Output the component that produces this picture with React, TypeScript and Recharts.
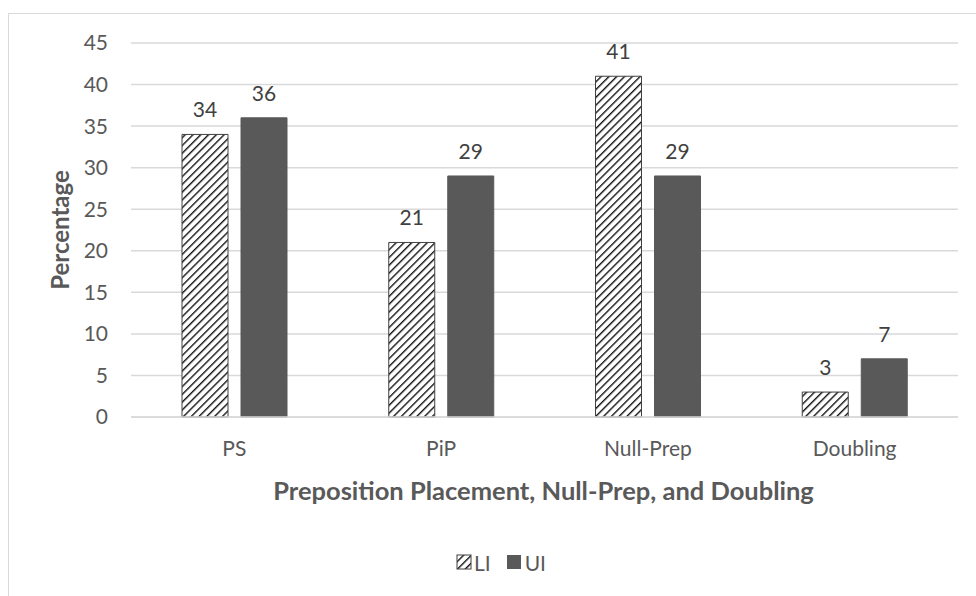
import React from 'react';
import { BarChart, Bar, XAxis, YAxis, CartesianGrid, LabelList, Legend, Label } from 'recharts';

const categories = ['PS', 'PiP', 'Null-Prep', 'Doubling'];
const liValues = [34, 21, 41, 3];
const uiValues = [36, 29, 29, 7];
const yTicks = [0, 5, 10, 15, 20, 25, 30, 35, 40, 45];

const data = categories.map((c, i) => ({ name: c, LI: liValues[i], UI: uiValues[i] }));

const FONT = 'Lato, "Open Sans", sans-serif';
const TXT = '#595959';

const LegendContent = () => (
  <div style={{ display: 'flex', justifyContent: 'center', alignItems: 'center', fontFamily: FONT, fontSize: 21, color: TXT, transform: 'translateX(22px)', height: 40 }}>
    <svg width={16} height={16} style={{ marginRight: 2 }}>
      <rect x={1} y={1} width={14} height={14} fill="url(#hatchLI)" stroke="#404040" strokeWidth={1} />
    </svg>
    <span style={{ marginRight: 15 }}>LI</span>
    <svg width={16} height={16} style={{ marginRight: 3 }}>
      <rect x={1} y={1} width={14} height={14} fill="#595959" />
    </svg>
    <span>UI</span>
  </div>
);

export default function App() {
  return (
    <div style={{ position: 'fixed', left: 0, top: 0, width: 976, height: 596, background: '#fff' }}>
      <div style={{ position: 'absolute', left: 8, top: 13, width: 980, height: 600, borderLeft: '1px solid #d9d9d9', borderTop: '1px solid #d9d9d9' }} />
      <div style={{ position: 'absolute', left: 0, top: 0 }}>
        <BarChart
          width={976}
          height={596}
          data={data}
          margin={{ top: 43, right: 18, left: 0, bottom: 14 }}
          barSize={46}
          barGap={13}
        >
          <defs>
            <pattern id="hatchLI" patternUnits="userSpaceOnUse" width={5.5} height={5.5} patternTransform="rotate(45)">
              <rect x={0} y={0} width={5.5} height={5.5} fill="#fff" />
              <line x1={0} y1={0} x2={0} y2={5.5} stroke="#111" strokeWidth={2.8} />
            </pattern>
          </defs>
          <CartesianGrid vertical={false} stroke="#d9d9d9" strokeWidth={1.5} />
          <XAxis
            dataKey="name"
            height={125}
            tickLine={false}
            axisLine={{ stroke: '#d9d9d9', strokeWidth: 1.5 }}
            tick={{ fill: TXT, fontSize: 21, fontFamily: FONT }}
            tickMargin={18}
            interval={0}
          >
            <Label
              content={(props: any) => {
                const vb = props.viewBox || {};
                return (
                  <text
                    x={vb.x + vb.width / 2 - 1}
                    y={vb.y + 83}
                    textAnchor="middle"
                    fill={TXT}
                    fontSize={25.5}
                    fontWeight="bold"
                    fontFamily={FONT}
                  >
                    Preposition Placement, Null-Prep, and Doubling
                  </text>
                );
              }}
            />
          </XAxis>
          <YAxis
            width={131}
            domain={[0, 45]}
            ticks={yTicks}
            interval={0}
            tickLine={false}
            axisLine={false}
            tick={{ fill: TXT, fontSize: 21, fontFamily: FONT }}
            tickMargin={17}
          >
            <Label
              value="Percentage"
              angle={-90}
              position="center"
              dx={-5}
              style={{ fill: TXT, fontSize: 24, fontWeight: 'bold', fontFamily: FONT, textAnchor: 'middle' }}
            />
          </YAxis>
          <Legend verticalAlign="bottom" height={40} content={<LegendContent />} />
          <Bar dataKey="LI" fill="url(#hatchLI)" stroke="#404040" strokeWidth={1} isAnimationActive={false}>
            <LabelList dataKey="LI" position="top" offset={17} style={{ fill: '#404040', fontSize: 21, fontFamily: FONT }} />
          </Bar>
          <Bar dataKey="UI" fill="#595959" stroke="#595959" strokeWidth={1} isAnimationActive={false}>
            <LabelList dataKey="UI" position="top" offset={17} style={{ fill: '#404040', fontSize: 21, fontFamily: FONT }} />
          </Bar>
        </BarChart>
      </div>
    </div>
  );
}
